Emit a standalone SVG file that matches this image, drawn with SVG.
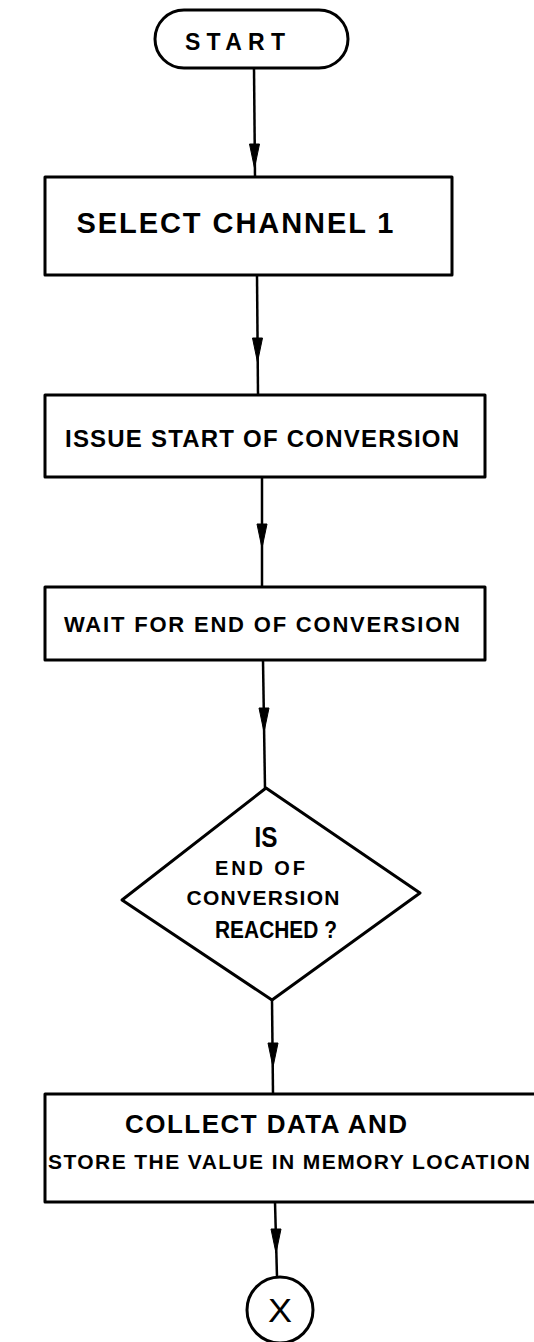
<svg xmlns="http://www.w3.org/2000/svg" width="534" height="1342" viewBox="0 0 534 1342">
  <style>
    .shape { fill: #fff; stroke: #000; stroke-width: 3; stroke-linejoin: round; }
    .wire { stroke: #000; stroke-width: 2.5; fill: none; }
    .head { fill: #000; stroke: #000; stroke-width: 1; }
    .lbl { font-family: "Liberation Sans", "DejaVu Sans", sans-serif; font-weight: bold; fill: #000; text-anchor: middle; }
    .thin { font-weight: normal; }
  </style>
  <defs>
    <!-- narrow filled arrowhead, drawn partway along each connector -->
    <path id="arrowhead" d="M -5 -24 L 5 -24 L 0 0 Z"/>
  </defs>
  <rect width="534" height="1342" fill="#fff"/>

  <g id="connectors">
    <line class="wire" x1="254" y1="68" x2="255" y2="177"/>
    <use href="#arrowhead" class="head" x="254.5" y="168"/>
    <line class="wire" x1="257" y1="275" x2="258" y2="395"/>
    <use href="#arrowhead" class="head" x="257.5" y="362"/>
    <line class="wire" x1="262" y1="477" x2="262" y2="587"/>
    <use href="#arrowhead" class="head" x="262" y="548"/>
    <line class="wire" x1="263" y1="660" x2="265" y2="788"/>
    <use href="#arrowhead" class="head" x="264" y="732"/>
    <line class="wire" x1="272" y1="1000" x2="273" y2="1094"/>
    <use href="#arrowhead" class="head" x="273" y="1067"/>
    <line class="wire" x1="275" y1="1202" x2="277" y2="1277"/>
    <use href="#arrowhead" class="head" x="276" y="1253"/>
  </g>

  <g id="start">
    <rect class="shape" x="155" y="10" width="193" height="58" rx="29" ry="29"/>
    <text class="lbl" x="235" y="50" font-size="23" textLength="100">START</text>
  </g>

  <g id="select-channel">
    <rect class="shape" x="45" y="177" width="407" height="98"/>
    <text class="lbl" x="235" y="233" font-size="29" textLength="317">SELECT CHANNEL 1</text>
  </g>

  <g id="issue-soc">
    <rect class="shape" x="45" y="395" width="440" height="82"/>
    <text class="lbl" x="262" y="447" font-size="24" textLength="394">ISSUE START OF CONVERSION</text>
  </g>

  <g id="wait-eoc">
    <rect class="shape" x="45" y="587" width="440" height="73"/>
    <text class="lbl" x="262" y="632" font-size="22" textLength="396">WAIT FOR END OF CONVERSION</text>
  </g>

  <g id="eoc-check">
    <polygon class="shape" points="266,788 420,893 272,1000 122,900"/>
    <text class="lbl" x="266" y="847" font-size="29" textLength="23" lengthAdjust="spacingAndGlyphs">IS</text>
    <text class="lbl" x="260" y="875" font-size="20" textLength="90">END OF</text>
    <text class="lbl" x="263" y="905" font-size="21" textLength="153">CONVERSION</text>
    <text class="lbl" x="276" y="938" font-size="23" textLength="122" lengthAdjust="spacingAndGlyphs">REACHED ?</text>
  </g>

  <g id="collect-store">
    <rect class="shape" x="45" y="1094" width="495" height="108"/>
    <text class="lbl" x="266" y="1133" font-size="26" textLength="282">COLLECT DATA AND</text>
    <text class="lbl" x="289" y="1169" font-size="21" textLength="482">STORE THE VALUE IN MEMORY LOCATION</text>
  </g>

  <g id="connector-x">
    <circle class="shape" cx="280" cy="1310" r="33"/>
    <text class="lbl thin" x="280" y="1322" font-size="34" textLength="24" lengthAdjust="spacingAndGlyphs">X</text>
  </g>
</svg>
